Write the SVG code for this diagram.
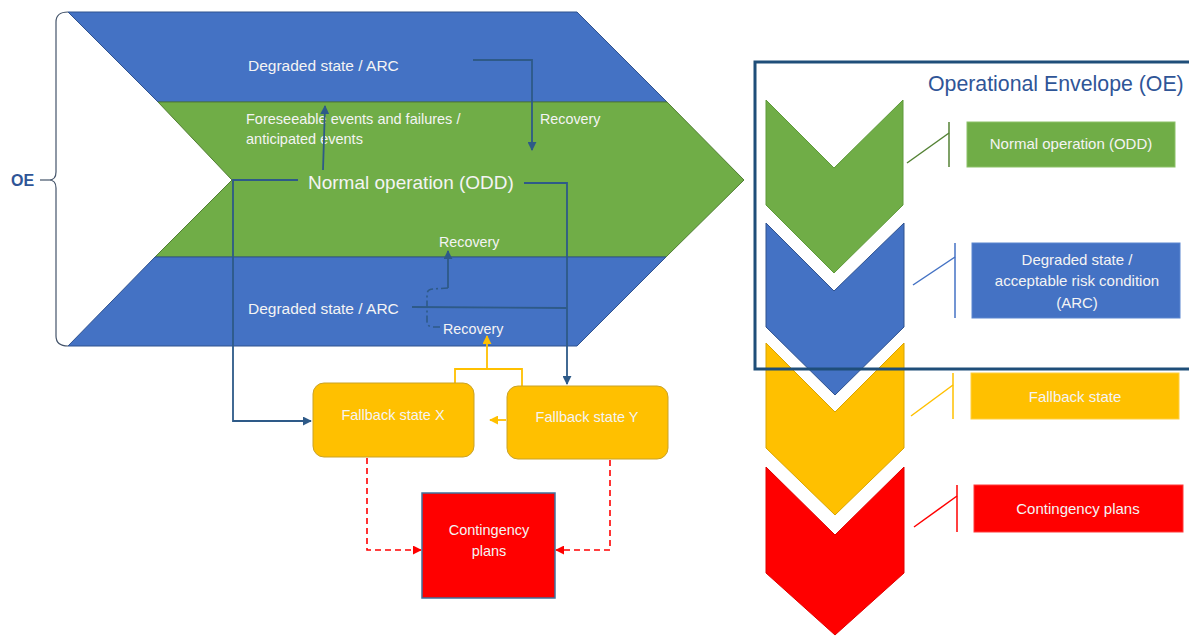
<svg xmlns="http://www.w3.org/2000/svg" width="1189" height="636" viewBox="0 0 1189 636">
<style>
.t{font-family:"Liberation Sans",Arial,sans-serif;fill:#F4F4F4}
.c{text-anchor:middle}
.ar{fill:none;stroke:#2E5A88;stroke-width:1.8}
.ay{fill:none;stroke:#FFC000;stroke-width:1.8}
.ad{fill:none;stroke:#FF0000;stroke-width:1.6;stroke-dasharray:6 4}
</style>
<defs>
<marker id="mb" viewBox="0 0 10 10" refX="9" refY="5" markerWidth="9" markerHeight="9" markerUnits="userSpaceOnUse" orient="auto"><path d="M0,0L10,5L0,10z" fill="#2E5A88"/></marker>
<marker id="my" viewBox="0 0 10 10" refX="9" refY="5" markerWidth="9" markerHeight="9" markerUnits="userSpaceOnUse" orient="auto"><path d="M0,0L10,5L0,10z" fill="#FFC000"/></marker>
<marker id="mr" viewBox="0 0 10 10" refX="9" refY="5" markerWidth="9" markerHeight="9" markerUnits="userSpaceOnUse" orient="auto"><path d="M0,0L10,5L0,10z" fill="#FF0000"/></marker>
</defs>
<rect width="1189" height="636" fill="#FFFFFF"/>

<g id="main-chevron">
<polygon points="68,12 577,12 667,102 158,102" fill="#4472C4" stroke="#2F528F" stroke-width="1"/>
<polygon points="158,102 667,102 744,180 666,257 155,257 232,180" fill="#70AD47" stroke="#507E32" stroke-width="1"/>
<polygon points="155,257 666,257 577,346 68,346" fill="#4472C4" stroke="#2F528F" stroke-width="1"/>
</g>

<g id="oe-brace">
<path d="M68,12 Q56,12 56,22 L56,172 Q56,180 49,180 Q56,180 56,188 L56,336 Q56,346 68,346" fill="none" stroke="#44546A" stroke-width="1.2"/>
<line x1="40" y1="180" x2="49" y2="180" stroke="#44546A" stroke-width="1.2"/>
<text x="11" y="186" font-family="Liberation Sans, Arial, sans-serif" font-weight="bold" font-size="16" fill="#2F5597">OE</text>
</g>

<g id="band-labels">
<text class="t" x="248" y="71" font-size="15.5">Degraded state / ARC</text>
<text class="t" x="246" y="124" font-size="14.5">Foreseeable events and failures /</text>
<text class="t" x="246" y="144" font-size="14.5">anticipated events</text>
<text class="t" x="540" y="124" font-size="14.3">Recovery</text>
<text class="t" x="308" y="189" font-size="19">Normal operation (ODD)</text>
<text class="t" x="439" y="247" font-size="14.3">Recovery</text>
<text class="t" x="248" y="314" font-size="15.5">Degraded state / ARC</text>
<text class="t" x="443" y="334" font-size="14.3">Recovery</text>
</g>

<g id="connectors">
<path class="ar" d="M473,60 L532,60 L532,150" marker-end="url(#mb)"/>
<path class="ar" d="M323,170 L325,106" marker-end="url(#mb)"/>
<path class="ar" d="M298,180 L233,180 L233,421 L311,421" marker-end="url(#mb)"/>
<path class="ar" d="M524,183 L567,183 L567,384" marker-end="url(#mb)"/>
<path class="ar" d="M412,307 L567,308"/>
<path class="ar" d="M448,288 L448,251" marker-end="url(#mb)"/>
<path d="M448,288 L433,289 Q427,289 427,295 L427,321 Q427,327 433,327 L442,327" fill="none" stroke="#2E5A88" stroke-width="1.6" stroke-dasharray="7 3 2 3"/>
<path class="ay" d="M455,383 L455,369 L522,369 L522,386"/>
<path class="ay" d="M487,369 L487,336" marker-end="url(#my)"/>
<path class="ay" d="M506,420 L490,420" marker-end="url(#my)"/>
<path class="ad" d="M367,458 L367,550 L421,550" marker-end="url(#mr)"/>
<path class="ad" d="M610,460 L610,550 L556,550" marker-end="url(#mr)"/>
</g>

<g id="fallback-x">
<rect x="313" y="383" width="161" height="74" rx="11" fill="#FFC000" stroke="#C9A227" stroke-width="1"/>
<text class="t c" x="393" y="420" font-size="14.5">Fallback state X</text>
</g>
<g id="fallback-y">
<rect x="507" y="386" width="161" height="73" rx="11" fill="#FFC000" stroke="#C9A227" stroke-width="1"/>
<text class="t c" x="587" y="422" font-size="14.5">Fallback state Y</text>
</g>
<g id="contingency">
<rect x="422" y="493" width="133" height="105" fill="#FF0000" stroke="#41719C" stroke-width="1.5"/>
<text class="t c" x="489" y="535" font-size="14.5">Contingency</text>
<text class="t c" x="489" y="556" font-size="14.5">plans</text>
</g>

<g id="legend-chevrons">
<polygon points="766,100 834,168 903,100 903,205 834,273 766,205" fill="#70AD47" stroke="#5E9A3A" stroke-width="1"/>
<polygon points="766,467 835,535 904,467 904,573 835,635 766,573" fill="#FF0000" stroke="#E00000" stroke-width="1"/>
<polygon points="766,343 835,412 904,343 904,448 835,515 766,448" fill="#FFC000" stroke="#D9A400" stroke-width="1"/>
<polygon points="766,223 834,291 904,223 904,327 835,395 766,327" fill="#4472C4" stroke="#2F528F" stroke-width="1"/>
</g>

<g id="oe-envelope">
<rect x="755" y="62" width="450" height="307" fill="none" stroke="#1F4E79" stroke-width="3"/>
<text x="928" y="91" font-family="Liberation Sans, Arial, sans-serif" font-size="21.3" fill="#2F5597">Operational Envelope (OE)</text>
</g>

<g id="legend-normal">
<line x1="907" y1="163" x2="949" y2="133" stroke="#548235" stroke-width="1.5"/>
<line x1="949" y1="122" x2="949" y2="167" stroke="#548235" stroke-width="1.5"/>
<rect x="967" y="122" width="208" height="45" fill="#70AD47" stroke="#8CC168" stroke-width="1"/>
<text class="t c" x="1071" y="149" font-size="15">Normal operation (ODD)</text>
</g>
<g id="legend-degraded">
<line x1="913" y1="285" x2="955" y2="257" stroke="#4472C4" stroke-width="1.5"/>
<line x1="955" y1="243" x2="955" y2="318" stroke="#4472C4" stroke-width="1.5"/>
<rect x="972" y="243" width="208" height="75" fill="#4472C4" stroke="#5B86D0" stroke-width="1"/>
<text class="t c" x="1077" y="265" font-size="15">Degraded state /</text>
<text class="t c" x="1077" y="286" font-size="15">acceptable risk condition</text>
<text class="t c" x="1077" y="308" font-size="15">(ARC)</text>
</g>
<g id="legend-fallback">
<line x1="911" y1="416" x2="953" y2="385" stroke="#FFC000" stroke-width="1.5"/>
<line x1="953" y1="373" x2="953" y2="419" stroke="#FFC000" stroke-width="1.5"/>
<rect x="971" y="373" width="208" height="46" fill="#FFC000" stroke="#FFCF40" stroke-width="1"/>
<text class="t c" x="1075" y="402" font-size="15">Fallback state</text>
</g>
<g id="legend-contingency">
<line x1="914" y1="527" x2="957" y2="496" stroke="#FF0000" stroke-width="1.5"/>
<line x1="957" y1="485" x2="957" y2="532" stroke="#FF0000" stroke-width="1.5"/>
<rect x="974" y="485" width="209" height="47" fill="#FF0000" stroke="#FF3B3B" stroke-width="1"/>
<text class="t c" x="1078" y="514" font-size="15">Contingency plans</text>
</g>
</svg>
